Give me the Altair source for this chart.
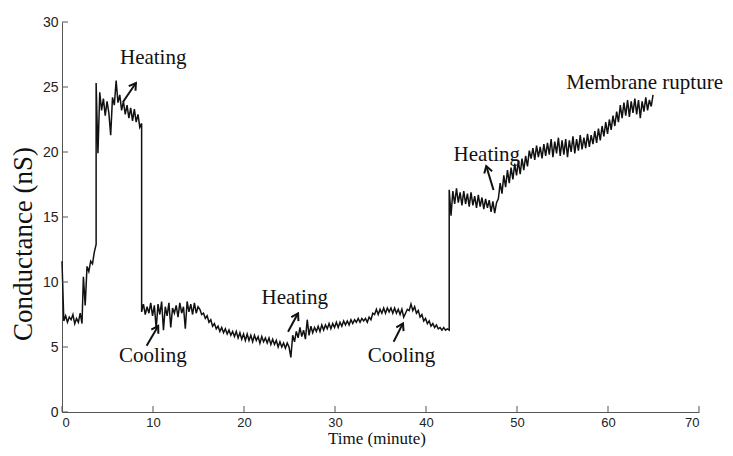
import math
import altair as alt
import pandas as pd

# ---- trace data (segments: start time, sample step, values) ----
seg1_start, seg1_step = 0.0, 0.2
seg1_vals = [11.6, 7.0, 7.4, 6.9, 7.3, 7.1, 7.5, 6.8, 7.2, 6.9, 7.6, 6.8]

seg2_start, seg2_step = 2.35, 0.2
seg2_vals = [10.4, 8.2, 11.2, 10.8, 11.6, 11.4, 12.3, 12.9]

seg3_start, seg3_step = 3.75, 0.2
seg3_vals = [25.3, 19.9, 24.6, 23.2, 24.1, 22.8, 23.9, 23.0, 21.3, 24.2, 23.6, 25.5, 23.8,
             24.4, 23.2, 23.9, 22.9, 23.6, 22.6, 23.4, 22.4, 23.3, 22.3, 22.9, 21.9, 22.2]

seg4_start, seg4_step = 8.75, 0.2
seg4_vals = [7.7, 8.3, 7.5, 8.1, 7.6, 8.4, 7.4, 8.2, 6.4, 8.3, 7.5, 8.5, 6.3, 8.1, 7.4, 8.4,
             6.5, 8.0, 7.6, 8.2, 7.3, 8.4, 7.6, 8.1, 6.4, 8.5, 7.7, 8.3, 7.5, 8.4, 7.6, 8.1,
             7.9, 7.5, 7.6, 7.2, 7.4, 6.9, 7.1, 6.6, 6.8, 6.4, 6.6, 6.2, 6.5, 6.1, 6.4, 6.0,
             6.3, 5.9, 6.2, 5.8, 6.2, 5.7, 6.1, 5.6, 6.0, 5.5, 6.0, 5.5, 5.9, 5.4, 5.9, 5.5,
             5.8, 5.3, 5.8, 5.4, 5.7, 5.3, 5.7, 5.2, 5.6, 5.2, 5.5, 5.0, 5.4, 5.0, 5.3, 4.9,
             5.3, 5.0]

seg5_start, seg5_step = 25.15, 0.2
seg5_vals = [4.2, 5.9, 5.4, 6.2, 5.7, 6.5, 5.8, 6.3, 5.6, 7.1, 5.9, 6.6, 6.1, 6.5, 6.2, 6.6,
             6.2, 6.7, 6.3, 6.7, 6.4, 6.8, 6.4, 6.8, 6.5, 6.9, 6.5, 6.9, 6.6, 7.0, 6.7, 7.0,
             6.7, 7.1, 6.8, 7.1, 6.9, 7.2, 6.9, 7.2, 7.0, 7.2, 6.9, 7.3, 7.1, 7.6, 7.5, 7.9,
             7.5, 7.9, 7.6, 8.0, 7.6, 8.0, 7.7, 8.0, 7.6, 8.0, 7.6, 7.9, 7.5, 7.9, 7.3, 7.6,
             7.9, 7.8, 8.3, 7.8, 8.1, 7.6, 7.8, 7.3, 7.5, 7.0, 7.2, 6.8, 7.0, 6.6, 6.8, 6.5,
             6.7, 6.4, 6.5, 6.3, 6.5, 6.3, 6.4, 6.3]

seg6_start, seg6_step = 42.55, 0.2
seg6_vals = [17.1, 15.1, 17.0, 16.0, 17.2, 16.1, 16.9, 15.9, 17.0, 16.0, 16.8, 15.8, 16.9,
             15.9, 16.6, 15.7, 16.7, 15.8, 16.5, 15.6, 16.4, 15.7, 16.3, 15.4, 16.2, 15.3,
             16.1, 16.4, 17.6, 16.8, 18.2, 17.3, 18.6, 17.6, 18.8, 17.9, 19.1, 18.2, 19.3,
             18.3, 19.5, 18.6, 19.7, 18.9, 20.1, 19.5, 20.3, 19.4, 20.5, 19.6, 20.4, 19.5,
             20.6, 19.7, 20.7, 19.8, 21.0, 19.6, 20.8, 19.9, 21.1, 19.7, 20.9, 19.8, 21.0,
             19.6, 20.9, 20.0, 21.2, 19.9, 21.0, 20.1, 21.3, 20.2, 21.1, 20.3, 21.4, 20.4,
             21.3, 20.6, 21.6, 20.7, 21.8, 20.9, 22.0, 21.2, 22.3, 21.4, 22.5, 21.7, 22.8,
             22.0, 23.1, 22.3, 23.6, 22.6, 23.8, 22.8, 24.0, 22.7, 23.9, 23.0, 24.1, 22.9,
             24.0, 22.6, 23.9, 23.1, 24.2, 23.2, 24.0, 23.5, 24.4]

segments = [
    (seg1_start, seg1_step, seg1_vals),
    (seg2_start, seg2_step, seg2_vals),
    (seg3_start, seg3_step, seg3_vals),
    (seg4_start, seg4_step, seg4_vals),
    (seg5_start, seg5_step, seg5_vals),
    (seg6_start, seg6_step, seg6_vals),
]

# ---- annotations ----
ann_text = ["Heating", "Cooling", "Heating", "Cooling", "Heating", "Membrane rupture"]
ann_x = [6.37, 6.26, 21.92, 33.59, 43.03, 55.4]
ann_y = [26.77, 3.86, 8.29, 3.86, 19.32, 24.88]

arr_x1 = [6.70, 9.30, 24.84, 36.44, 47.42]
arr_y1 = [23.85, 5.10, 6.18, 5.41, 17.08]
arr_x2 = [8.12, 10.57, 25.94, 37.47, 46.62]
arr_y2 = [25.31, 6.62, 7.59, 6.82, 18.92]

x_ticks = [0, 10, 20, 30, 40, 50, 60, 70]
y_ticks = [0, 5, 10, 15, 20, 25, 30]

x_title = "Time (minute)"
y_title = "Conductance (nS)"

W, H = 637, 390
X_MAX, Y_MAX = 70, 30

rows = []
i = 0
for start, step, vals in segments:
    for k, v in enumerate(vals):
        rows.append({"t": round(start + k * step, 3), "g": v, "i": i})
        i += 1
trace = pd.DataFrame(rows)

ann = pd.DataFrame({"text": ann_text, "x": ann_x, "y": ann_y})

angles = []
for a, b, c, d in zip(arr_x1, arr_y1, arr_x2, arr_y2):
    dx = (c - a) * W / X_MAX
    dy = -(d - b) * H / Y_MAX
    angles.append(math.degrees(math.atan2(dx, -dy)) % 360)
arrows = pd.DataFrame({"x1": arr_x1, "y1": arr_y1, "x2": arr_x2, "y2": arr_y2, "ang": angles})

xs = alt.Scale(domain=[0, X_MAX], nice=False, zero=False)
ys = alt.Scale(domain=[0, Y_MAX], nice=False, zero=False)

AX = "#555555"
INK = "#111111"

line = alt.Chart(trace).mark_line(color=INK, strokeWidth=1.5).encode(
    x=alt.X("t:Q", scale=xs, title=None,
            axis=alt.Axis(values=x_ticks, ticks=False, tickSize=0, grid=False, labelPadding=4,
                          labelFontSize=13)),
    y=alt.Y("g:Q", scale=ys, title=None,
            axis=alt.Axis(values=y_ticks, ticks=False, tickSize=0, grid=False, labelPadding=4)),
    order="i:Q",
)

xtick = alt.Chart(pd.DataFrame({"v": x_ticks})).mark_rule(color=AX, strokeWidth=1).encode(
    x=alt.X("v:Q", scale=xs), y=alt.value(H), y2=alt.value(H - 6))
ytick = alt.Chart(pd.DataFrame({"v": y_ticks})).mark_rule(color=AX, strokeWidth=1).encode(
    y=alt.Y("v:Q", scale=ys), x=alt.value(0), x2=alt.value(6))

shafts = alt.Chart(arrows).mark_rule(color=INK, strokeWidth=2).encode(
    x=alt.X("x1:Q", scale=xs), y=alt.Y("y1:Q", scale=ys),
    x2="x2:Q", y2="y2:Q")
heads = alt.Chart(arrows).mark_point(
    shape="M-0.55,0.9L0,0L0.55,0.9", filled=False, color=INK, strokeWidth=2,
    size=220, opacity=1).encode(
    x=alt.X("x2:Q", scale=xs), y=alt.Y("y2:Q", scale=ys), angle=alt.Angle("ang:Q", scale=None))

labels = alt.Chart(ann).mark_text(
    font="Liberation Serif", fontSize=21, color=INK, align="left", baseline="alphabetic").encode(
    x=alt.X("x:Q", scale=xs), y=alt.Y("y:Q", scale=ys), text="text:N")

xtitle = alt.Chart(pd.DataFrame({"t": [x_title]})).mark_text(
    font="Liberation Serif", fontSize=17, color=INK, align="center", baseline="alphabetic").encode(
    text="t:N", x=alt.value(315), y=alt.value(H + 32))
ytitle = alt.Chart(pd.DataFrame({"t": [y_title]})).mark_text(
    font="Liberation Serif", fontSize=27, color=INK, align="center", baseline="middle",
    angle=270).encode(
    text="t:N", x=alt.value(-38), y=alt.value(222))

chart = alt.layer(line, xtick, ytick, shafts, heads, labels, xtitle, ytitle).properties(
    width=W, height=H,
    autosize=alt.AutoSizeParams(type="none"),
    padding={"left": 54, "top": 14, "right": 26, "bottom": 36},
).configure_view(stroke=None).configure_axis(
    domainColor=AX, domainWidth=1,
    labelFont="Liberation Sans", labelFontSize=14, labelColor="#222222",
)

chart.save("out.html", embed_options={"renderer": "svg", "actions": False})
